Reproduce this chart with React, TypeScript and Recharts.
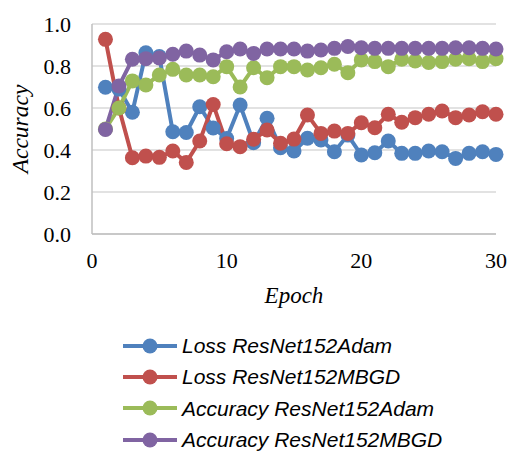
import React from 'react';
import { LineChart, Line, XAxis, YAxis, CartesianGrid, Legend } from 'recharts';

const epochs = [1,2,3,4,5,6,7,8,9,10,11,12,13,14,15,16,17,18,19,20,21,22,23,24,25,26,27,28,29,30];
const lossAdam = [0.699,0.69,0.58,0.863,0.845,0.487,0.483,0.606,0.505,0.455,0.614,0.435,0.551,0.411,0.395,0.456,0.448,0.392,0.471,0.376,0.387,0.443,0.384,0.384,0.395,0.392,0.36,0.384,0.392,0.379];
const lossMBGD = [0.927,0.6,0.363,0.371,0.365,0.395,0.341,0.443,0.617,0.43,0.416,0.451,0.495,0.432,0.452,0.567,0.479,0.49,0.479,0.53,0.506,0.57,0.532,0.554,0.57,0.586,0.554,0.567,0.582,0.57];
const accAdam = [0.5,0.6,0.729,0.71,0.757,0.784,0.757,0.757,0.749,0.797,0.7,0.792,0.744,0.797,0.797,0.781,0.792,0.808,0.768,0.829,0.821,0.797,0.832,0.824,0.817,0.821,0.832,0.835,0.821,0.835];
const accMBGD = [0.498,0.705,0.832,0.835,0.838,0.856,0.871,0.852,0.829,0.868,0.881,0.86,0.881,0.881,0.881,0.871,0.876,0.884,0.893,0.887,0.884,0.884,0.884,0.884,0.884,0.884,0.887,0.887,0.884,0.881];

const xTicks = [0, 10, 20, 30];
const yTicks = [0, 0.2, 0.4, 0.6, 0.8, 1.0];

const series = [
  { key: 'lossAdam', name: 'Loss ResNet152Adam', color: '#4F81BD', values: lossAdam },
  { key: 'lossMBGD', name: 'Loss ResNet152MBGD', color: '#C0504D', values: lossMBGD },
  { key: 'accAdam', name: 'Accuracy ResNet152Adam', color: '#9BBB59', values: accAdam },
  { key: 'accMBGD', name: 'Accuracy ResNet152MBGD', color: '#8064A2', values: accMBGD },
];

const data = epochs.map((e, i) => {
  const row: any = { epoch: e };
  series.forEach(s => { row[s.key] = s.values[i]; });
  return row;
});

const SERIF = "'Liberation Serif', 'Times New Roman', serif";
const tickStyle = { fontFamily: SERIF, fontSize: 22, fill: '#000' };

const renderLegend = () => (
  <div>
    {series.map(s => (
      <div key={s.key} style={{ display: 'flex', alignItems: 'center', height: 31.3 }}>
        <svg width={60} height={20} style={{ display: 'block' }}>
          <line x1={3} y1={10} x2={57} y2={10} stroke={s.color} strokeWidth={4} />
          <circle cx={30} cy={10} r={7.5} fill={s.color} />
        </svg>
        <span style={{ marginLeft: 2, fontFamily: "'Liberation Sans', Arial, sans-serif", fontStyle: 'italic', fontSize: 21, color: '#000', lineHeight: 1, whiteSpace: 'nowrap' }}>{s.name}</span>
      </div>
    ))}
  </div>
);

const YLabel = (props: any) => {
  const vb = props.viewBox || {};
  const cy = (vb.y || 0) + (vb.height || 0) / 2;
  const x = 28;
  return (
    <text x={x} y={cy} transform={`rotate(-90 ${x} ${cy})`} textAnchor="middle" style={{ fontFamily: SERIF, fontStyle: 'italic', fontSize: 23.5, fill: '#000' }}>Accuracy</text>
  );
};

export default function App() {
  return (
    <div style={{ position: 'absolute', left: 0, top: 0, background: '#fff' }}>
      <LineChart width={516} height={451} data={data} margin={{ top: 24, right: 20, left: 0, bottom: 137 }}>
        <CartesianGrid vertical={false} stroke="#d9d9d9" strokeWidth={1.5} />
        <XAxis
          dataKey="epoch"
          type="number"
          domain={[0, 30]}
          ticks={xTicks}
          height={80}
          tickLine={false}
          tickMargin={12}
          axisLine={{ stroke: '#bfbfbf', strokeWidth: 1.5 }}
          tick={tickStyle}
          label={{ value: 'Epoch', position: 'insideBottom', offset: 11, style: { fontFamily: SERIF, fontStyle: 'italic', fontSize: 23, fill: '#000' } }}
        />
        <YAxis
          type="number"
          domain={[0, 1]}
          ticks={yTicks}
          width={92}
          tickLine={false}
          tickMargin={15}
          axisLine={{ stroke: '#bfbfbf', strokeWidth: 1.5 }}
          tick={tickStyle}
          tickFormatter={(v: number) => v.toFixed(1)}
          label={<YLabel />}
        />
        {series.map(s => (
          <Line
            key={s.key}
            dataKey={s.key}
            name={s.name}
            stroke={s.color}
            strokeWidth={4}
            dot={{ r: 7.5, fill: s.color, stroke: s.color, strokeWidth: 0 }}
            activeDot={false}
            isAnimationActive={false}
          />
        ))}
        <Legend
          layout="horizontal"
          verticalAlign="middle"
          align="center"
          content={renderLegend}
          wrapperStyle={{ top: 330, left: 120, width: 390 }}
        />
      </LineChart>
    </div>
  );
}
